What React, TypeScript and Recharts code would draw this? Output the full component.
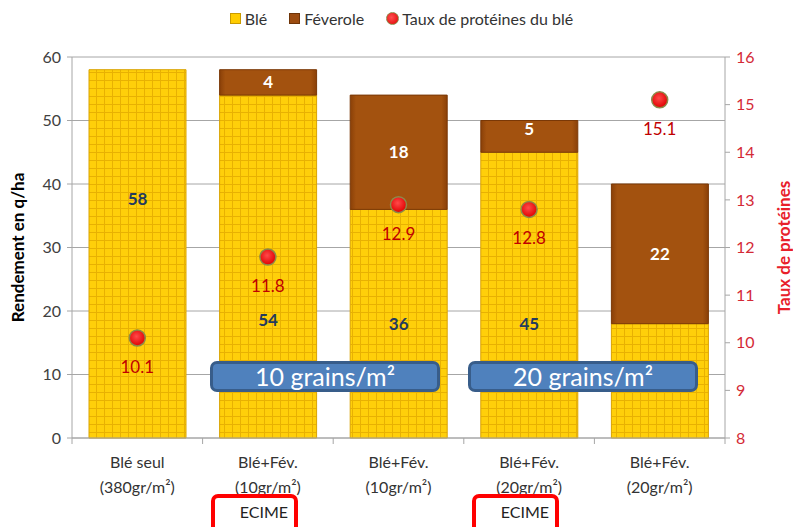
import { Bar, CartesianGrid, ComposedChart, LabelList, Legend, Line, XAxis, YAxis } from "recharts";

const categories = ["Blé seul", "Blé+Fév.", "Blé+Fév.", "Blé+Fév.", "Blé+Fév."];
const densities = ["(380gr/m²)", "(10gr/m²)", "(10gr/m²)", "(20gr/m²)", "(20gr/m²)"];
const ble = [58, 54, 36, 45, 18];
const feverole = [null, 4, 18, 5, 22];
const proteines = [10.1, 11.8, 12.9, 12.8, 15.1];
const leftTicks = [0, 10, 20, 30, 40, 50, 60];
const rightTicks = [8, 9, 10, 11, 12, 13, 14, 15, 16];

// where the data label sits inside each segment (0 = top, 1 = bottom), moved by hand in the original
// null = label hidden behind the "20 grains/m²" box in the original
const bleLabelAt = [0.35, 0.655, 0.5, 0.6, null];
const fevLabelAt = [0.5, 0.5, 0.27, 0.5, 0.5];

const FONT = "Lato, 'Open Sans', sans-serif";
const BAND = (725 - 72) / 5;

const data = categories.map((name, i) => ({
    name,
    density: densities[i],
    ble: ble[i],
    feverole: feverole[i],
    proteines: proteines[i],
}));

const XTick = (props: any) => {
    const {x, y, payload, index} = props;
    return (
        <g>
            <line x1={x - BAND / 2} x2={x - BAND / 2} y1={y - 8} y2={y - 2} stroke="#a6a6a6"/>
            {index === categories.length - 1 && (
                <line x1={x + BAND / 2} x2={x + BAND / 2} y1={y - 8} y2={y - 2} stroke="#a6a6a6"/>
            )}
            <text x={x} y={y + 22} textAnchor="middle" fontSize={16} fill="#333" fontFamily={FONT}>
                {payload.value}
            </text>
            <text x={x} y={y + 47} textAnchor="middle" fontSize={16} fill="#333" fontFamily={FONT}>
                {densities[index]}
            </text>
        </g>
    );
};

const segLabel = (positions: (number | null)[], color: string) => (props: any) => {
    const {x, y, width, height, value, index} = props;
    if (value == null || positions[index] == null) return null;
    const ly = y + height * (positions[index] as number);
    return (
        <text x={x + width / 2} y={ly} dy={6} textAnchor="middle" fontSize={17} fontWeight="bold"
              fill={color} fontFamily={FONT}>
            {value}
        </text>
    );
};

const ProteinDot = (props: any) => {
    const {cx, cy, index} = props;
    return (
        <circle key={`dot-${index}`} cx={cx} cy={cy} r={8} fill="url(#dotFill)" stroke="#8c8a4a" strokeWidth={1.5}/>
    );
};

const proteinLabel = (props: any) => {
    const {x, y, value} = props;
    return (
        <text x={x} y={y + 35} textAnchor="middle" fontSize={17} fill="#c00000" fontFamily={FONT}>
            {value.toFixed(1)}
        </text>
    );
};

const axisTitle = (text: string, cx: number, color: string) => (props: any) => {
    const {viewBox} = props;
    const cy = viewBox.y + viewBox.height / 2;
    return (
        <text x={cx} y={cy} transform={`rotate(-90 ${cx} ${cy})`} dy={6} textAnchor="middle"
              fontSize={17} fontWeight="bold" fill={color} fontFamily={FONT}>
            {text}
        </text>
    );
};

const LegendContent = () => (
    <div style={{
        display: "flex", justifyContent: "center", alignItems: "center", height: 24,
        fontFamily: FONT, fontSize: 16, color: "#333", gap: 22, paddingLeft: 10,
    }}>
        <span style={{display: "flex", alignItems: "center", gap: 4}}>
            <span style={{width: 9, height: 9, background: "#ffcc00", border: "1px solid #c99a00"}}/>Blé
        </span>
        <span style={{display: "flex", alignItems: "center", gap: 4}}>
            <span style={{width: 9, height: 9, background: "#9c4c10", border: "1px solid #6e3408"}}/>Féverole
        </span>
        <span style={{display: "flex", alignItems: "center", gap: 3}}>
            <span style={{
                width: 11, height: 11, borderRadius: "50%",
                background: "radial-gradient(circle at 40% 40%, #ff5050, #e00000)", border: "1px solid #8c8a4a"
            }}/>Taux de protéines du blé
        </span>
    </div>
);

const blueBox = {
    position: "absolute" as const, height: 25, width: 224, background: "#4f81bd",
    border: "3px solid #385d8a", borderRadius: 7, color: "#fff", fontFamily: FONT, fontSize: 25,
    display: "flex", alignItems: "center", justifyContent: "center", lineHeight: 1,
};

const ecimeBox = {
    position: "absolute" as const, height: 42, width: 87, border: "4px solid #ff0000", borderRadius: 7,
    fontFamily: FONT, fontSize: 16, color: "#222", textAlign: "right" as const, paddingRight: 6,
    boxSizing: "border-box" as const, paddingTop: 4,
};

export default function App() {
    return (
        <div style={{position: "absolute", left: 0, top: 0, width: 793, height: 527, overflow: "hidden", background: "#fff"}}>
            <ComposedChart width={793} height={527} data={data} barSize={97}
                           margin={{top: 33, right: 0, bottom: 0, left: 0}}>
                <defs>
                    <pattern id="bleFill" width="8" height="8" patternUnits="userSpaceOnUse">
                        <rect width="8" height="8" fill="#ffcf0a"/>
                        <path d="M0 0.5 H8 M0.5 0 V8" stroke="#e3aa00" strokeWidth="1" opacity="0.8"/>
                    </pattern>
                    <linearGradient id="fevFill" x1="0" y1="0" x2="1" y2="0">
                        <stop offset="0" stopColor="#8a4008"/>
                        <stop offset="0.06" stopColor="#a3520f"/>
                        <stop offset="0.94" stopColor="#a3520f"/>
                        <stop offset="1" stopColor="#8a4008"/>
                    </linearGradient>
                    <radialGradient id="dotFill" cx="0.45" cy="0.4" r="0.6">
                        <stop offset="0" stopColor="#ff4a4a"/>
                        <stop offset="1" stopColor="#e00000"/>
                    </radialGradient>
                </defs>
                <Legend verticalAlign="top" content={<LegendContent/>} wrapperStyle={{top: 6}}/>
                <CartesianGrid yAxisId="left" vertical={false} stroke="#a6a6a6"/>
                <XAxis dataKey="name" height={89} interval={0} tickLine={false} tick={<XTick/>}
                       axisLine={{stroke: "#a6a6a6"}}/>
                <YAxis yAxisId="left" width={72} domain={[0, 60]} ticks={leftTicks} interval={0}
                       tick={{fontSize: 16, fill: "#404040", fontFamily: FONT}}
                       tickLine={{stroke: "#a6a6a6"}} axisLine={{stroke: "#a6a6a6"}} tickSize={5} tickMargin={6}
                       label={axisTitle("Rendement en q/ha", 18, "#000")}/>
                <YAxis yAxisId="right" orientation="right" width={68} domain={[8, 16]} ticks={rightTicks} interval={0}
                       tick={{fontSize: 16, fill: "#d42a36", fontFamily: FONT}}
                       tickLine={{stroke: "#a6a6a6"}} axisLine={{stroke: "#a6a6a6"}} tickSize={5} tickMargin={6}
                       label={axisTitle("Taux de protéines", 784, "#e8202a")}/>
                <Bar dataKey="ble" name="Blé" stackId="s" yAxisId="left" fill="url(#bleFill)" stroke="#d9a300"
                     isAnimationActive={false}>
                    <LabelList dataKey="ble" content={segLabel(bleLabelAt, "#243a5e")}/>
                </Bar>
                <Bar dataKey="feverole" name="Féverole" stackId="s" yAxisId="left" fill="url(#fevFill)" stroke="#7a3806"
                     isAnimationActive={false}>
                    <LabelList dataKey="feverole" content={segLabel(fevLabelAt, "#ffffff")}/>
                </Bar>
                <Line dataKey="proteines" name="Taux de protéines du blé" yAxisId="right" stroke="none"
                      dot={ProteinDot} activeDot={false} isAnimationActive={false}>
                    <LabelList dataKey="proteines" content={proteinLabel}/>
                </Line>
            </ComposedChart>
            <div style={{...blueBox, left: 210, top: 361}}>10 grains/m²</div>
            <div style={{...blueBox, left: 468, top: 361}}>20 grains/m²</div>
            <div style={{...ecimeBox, left: 211, top: 494}}>ECIME</div>
            <div style={{...ecimeBox, left: 472, top: 494}}>ECIME</div>
        </div>
    );
}
